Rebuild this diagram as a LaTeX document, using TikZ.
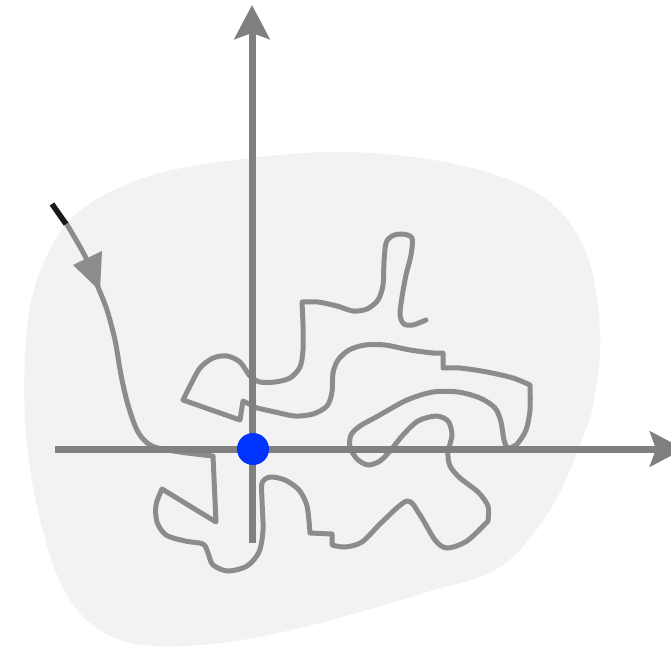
\documentclass[tikz,border=0pt]{standalone}
\usetikzlibrary{arrows.meta}
\definecolor{blobcol}{RGB}{242,242,242}
\definecolor{axiscol}{RGB}{128,128,128}
\definecolor{curvecol}{RGB}{140,140,140}
\definecolor{dotcol}{RGB}{0,51,255}
\begin{document}
\begin{tikzpicture}[x=1pt,y=-1pt,
  axis/.style={draw=axiscol,line width=7pt,-{Stealth[length=34pt,width=35pt,inset=6pt]}},
  walk/.style={draw=curvecol,line width=5pt,line join=round,line cap=round}]
\useasboundingbox (0,0) rectangle (671,647);
\clip (0,0) rectangle (671,647);
% background blob
\fill[blobcol] plot[smooth cycle,tension=0.6] coordinates {(200,165) (330,152) (450,163) (540,195) (585,250) (600,330) (594,400) (580,445) (550,510) (500,567) (427,592) (300,628) (200,645) (120,640) (70,600) (40,520) (25,420) (28,320) (45,260) (75,215) (130,183)};
% random walk
\draw[walk] plot[smooth,tension=0.5] coordinates {(66,223) (85,256) (98,287) (107,310) (115,340) (121,375) (128,405) (138,432) (152,446) (180,452) (213,456)}
  -- (216,522) -- (162,489)
  -- plot[smooth,tension=0.5] coordinates {(162,489) (156,505) (157,522) (166,535) (185,541) (203,544) (208,553) (213,565) (228,571) (247,566) (259,552) (263,530) (262,500) (262,483) (270,477) (285,480) (299,490) (307,506) (310,533)}
  -- (332,534) -- (332,545)
  -- plot[smooth,tension=0.5] coordinates {(332,545) (345,547) (362,542) (382,522) (407,501) (420,515) (435,540) (447,548) (467,541) (488,521)}
  -- plot[smooth,tension=0.5] coordinates {(488,521) (488,506) (478,492) (460,478) (450,466) (448,452) (452,435) (448,421) (436,416) (418,421) (403,435) (390,451) (380,461) (368,465) (357,459) (350,447) (351,435) (360,426) (378,416) (407,400) (433,392) (458,392) (480,398) (495,408) (501,422) (504,440) (508,448) (517,444) (526,430) (530,410) (530,385)}
  -- plot[smooth,tension=0.5] coordinates {(530,385) (513,378) (487,372) (460,368) (443,368)}
  -- (443,353)
  -- plot[smooth,tension=0.5] coordinates {(443,353) (433,353) (410,350) (385,345) (365,345) (349,350) (338,360) (333,373) (332,392) (327,406) (313,414) (295,416) (275,412) (257,408)}
  -- (243,401) -- (240,420) -- (183,400)
  -- plot[smooth,tension=0.5] coordinates {(183,400) (190,386) (200,368) (213,358) (227,356) (240,362) (250,376) (260,382) (275,382) (290,378) (300,367) (303,350) (303,325) (302,302)}
  -- plot[smooth,tension=0.5] coordinates {(302,302) (318,302) (337,306) (353,311) (367,309) (378,300) (383,285) (384,262) (386,243) (392,236) (402,234) (412,238) (411,255) (406,275) (402,297) (400,315) (404,324) (413,325) (426,320)};
% start of the walk and its arrow head
\draw[black!90,line width=5.5pt] (52,204) -- (66,224);
\fill[curvecol] (73,265) -- (102,251) -- (100,291) -- cycle;
% axes
\coordinate (yb) at (252,543);
\coordinate (yt) at (252,5);
\coordinate (xl) at (55,449);
\coordinate (xr) at (684,449);
\draw[axis] (yb) -- (yt);
\draw[axis] (xl) -- (xr);
% origin dot
\node[circle,fill=dotcol,inner sep=0pt,minimum size=32pt] (o) at (253,449) {};
\end{tikzpicture}
\end{document}
